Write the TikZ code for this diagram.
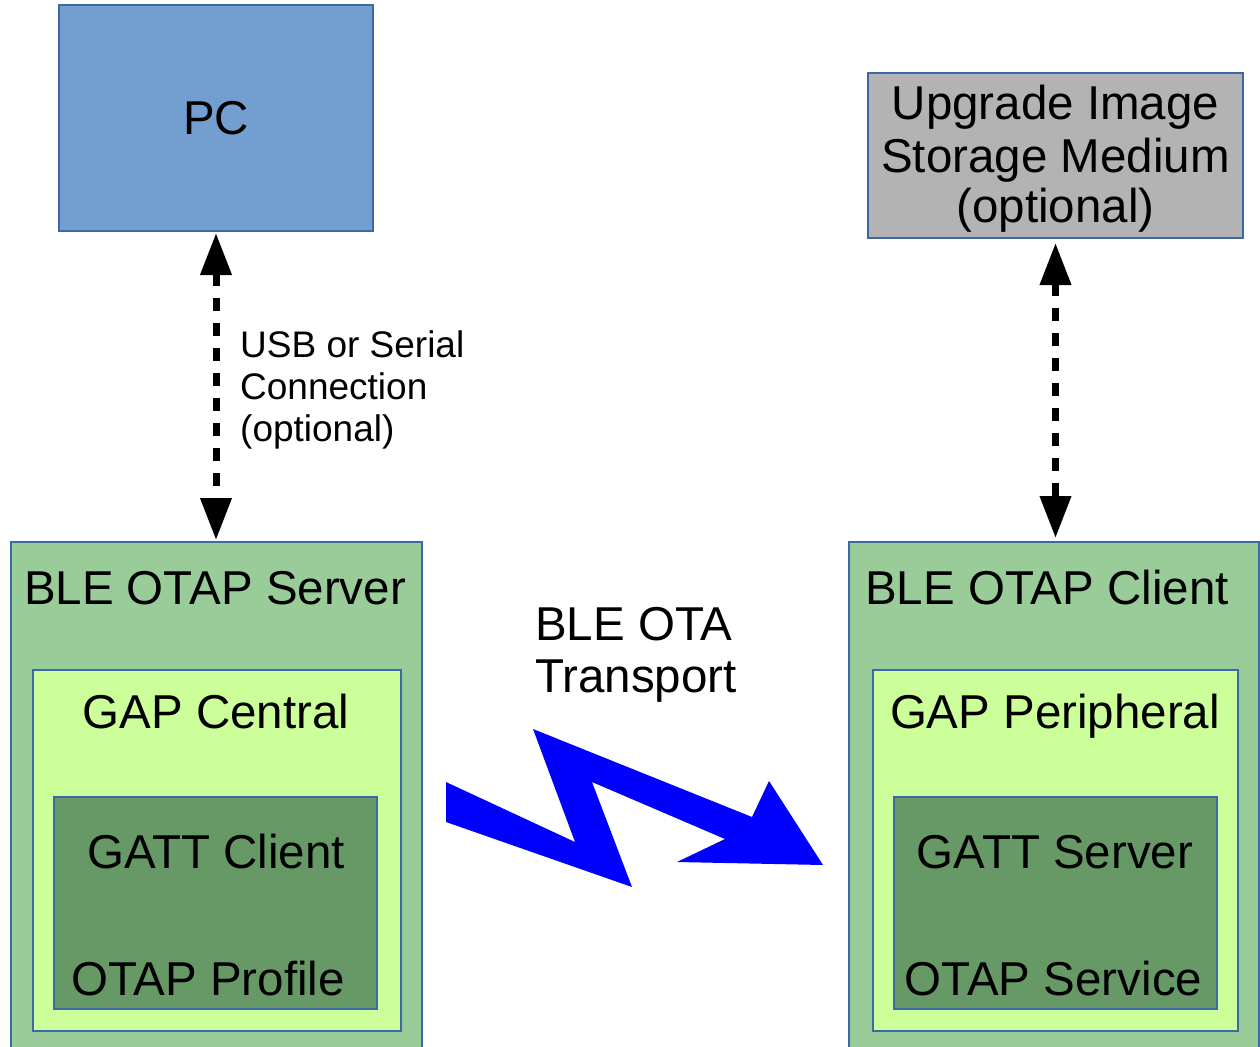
\documentclass[tikz,border=0pt]{standalone}
\usepackage{fontspec}
\setmainfont{Liberation Sans}
\usetikzlibrary{arrows.meta}
\definecolor{pcblue}{RGB}{114,159,207}
\definecolor{edgeblue}{RGB}{60,105,165}
\definecolor{storegray}{RGB}{179,179,179}
\definecolor{outergreen}{RGB}{153,204,153}
\definecolor{midgreen}{RGB}{204,255,153}
\definecolor{darkgreen}{RGB}{102,153,102}
\definecolor{boltblue}{RGB}{0,0,255}
\begin{document}
\begin{tikzpicture}[x=1pt,y=-1pt,
  box/.style={draw=edgeblue, line width=1.5pt, inner sep=0pt, outer sep=0pt, anchor=north west},
  big/.style={font=\fontsize{47.5}{53}\selectfont, inner sep=0pt, anchor=base},
  bigw/.style={font=\fontsize{47.5}{53}\selectfont, inner sep=0pt, anchor=base west},
  small/.style={font=\fontsize{37}{42}\selectfont, inner sep=0pt, anchor=base west},
  link/.style={line width=7pt, dash pattern=on 13pt off 12pt,
    {Triangle[length=42pt,width=30pt]}-{Triangle[length=42pt,width=30pt]}},
]
\useasboundingbox (0,0) rectangle (1260,1046);
\clip (0,0) rectangle (1260,1046);

% top boxes
\node[box, fill=pcblue, minimum width=314pt, minimum height=226pt] (pc) at (59,5) {};
\node[big] (pclabel) at (216,135) {PC};
\node[box, fill=storegray, minimum width=375pt, minimum height=165pt] (upg) at (868,73) {};
\node[big] (upg1) at (1055.5,120) {Upgrade Image};
\node[big] (upg2) at (1055.5,172) {Storage Medium};
\node[big] (upg3) at (1055.5,222) {(optional)};

% left device
\node[box, fill=outergreen, minimum width=411pt, minimum height=530pt] (srv) at (11,542) {};
\node[big] (srvlabel) at (215,604) {BLE OTAP Server};
\node[box, fill=midgreen, minimum width=368pt, minimum height=361pt] (gapc) at (33,670) {};
\node[big] (gapclabel) at (216,728) {GAP Central};
\node[box, fill=darkgreen, minimum width=323pt, minimum height=212pt] (gattc) at (54,797) {};
\node[big] (gattclabel) at (216,868) {GATT Client};
\node[big] (otapp) at (208,995) {OTAP Profile};

% right device
\node[box, fill=outergreen, minimum width=410pt, minimum height=530pt] (cli) at (849,542) {};
\node[big] (clilabel) at (1047,604) {BLE OTAP Client};
\node[box, fill=midgreen, minimum width=365pt, minimum height=361pt] (gapp) at (873,670) {};
\node[big] (gapplabel) at (1055,728) {GAP Peripheral};
\node[box, fill=darkgreen, minimum width=323pt, minimum height=212pt] (gatts) at (894,797) {};
\node[big] (gattslabel) at (1055,868) {GATT Server};
\node[big] (otaps) at (1053.5,995) {OTAP Service};

% connectors
\draw[link, shorten <=2pt, shorten >=2pt] (pc.south) -- (pc.south |- srv.north);
\draw[link, shorten <=5pt, shorten >=4pt] (upg.south) -- (upg.south |- cli.north);
\node[small] (usb1) at (240,357) {USB or Serial};
\node[small] (usb2) at (240,399) {Connection};
\node[small] (usb3) at (240,441) {(optional)};

% transport
\node[bigw] (tr1) at (535,640) {BLE OTA};
\node[bigw] (tr2) at (535,692) {Transport};
\fill[boltblue] (446,782) -- (575,842) -- (533,729) -- (752,817) -- (769,781)
  -- (823,865) -- (677,862) -- (725,839) -- (592,782) -- (632,887) -- (446,822) -- cycle;
\end{tikzpicture}
\end{document}
